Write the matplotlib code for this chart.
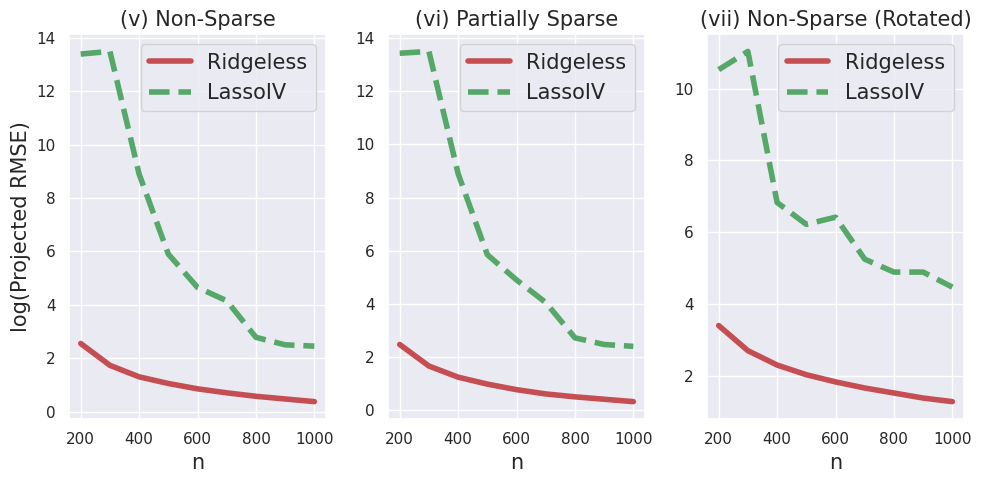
import matplotlib
matplotlib.use("Agg")
import matplotlib.pyplot as plt
import seaborn as sns

sns.set_theme(style="darkgrid", color_codes=True)

n = [200, 300, 400, 500, 600, 700, 800, 900, 1000]

titles = ["(v) Non-Sparse", "(vi) Partially Sparse", "(vii) Non-Sparse (Rotated)"]

ridgeless = [
    [2.55, 1.73, 1.3, 1.05, 0.85, 0.7, 0.57, 0.47, 0.37],
    [2.47, 1.66, 1.24, 0.98, 0.77, 0.61, 0.5, 0.41, 0.32],
    [3.4, 2.7, 2.3, 2.03, 1.83, 1.66, 1.52, 1.38, 1.28],
]
lassoiv = [
    [13.4, 13.5, 8.9, 5.9, 4.65, 4.15, 2.78, 2.5, 2.45],
    [13.43, 13.5, 8.9, 5.85, 4.9, 4.05, 2.72, 2.47, 2.4],
    [10.53, 11.04, 6.83, 6.22, 6.42, 5.25, 4.89, 4.89, 4.47],
]

fig, axes = plt.subplots(1, 3, figsize=(9.82, 4.84), dpi=100)
fig.subplots_adjust(left=0.0703, right=0.9817, top=0.93, bottom=0.134, wspace=0.241)

for i, ax in enumerate(axes):
    ax.plot(n, ridgeless[i], color="r", linewidth=4, label="Ridgeless")
    ax.plot(n, lassoiv[i], color="g", linewidth=4, linestyle="--", label="LassoIV")
    ax.set_title(titles[i], fontsize=15)
    ax.set_xlabel("n", fontsize=15)
    ax.set_xticks([200, 400, 600, 800, 1000])
    ax.tick_params(labelsize=11)
    ax.legend(fontsize=15, loc="upper right")

axes[0].set_ylabel("log(Projected RMSE)", fontsize=15)

plt.savefig("out.png")
